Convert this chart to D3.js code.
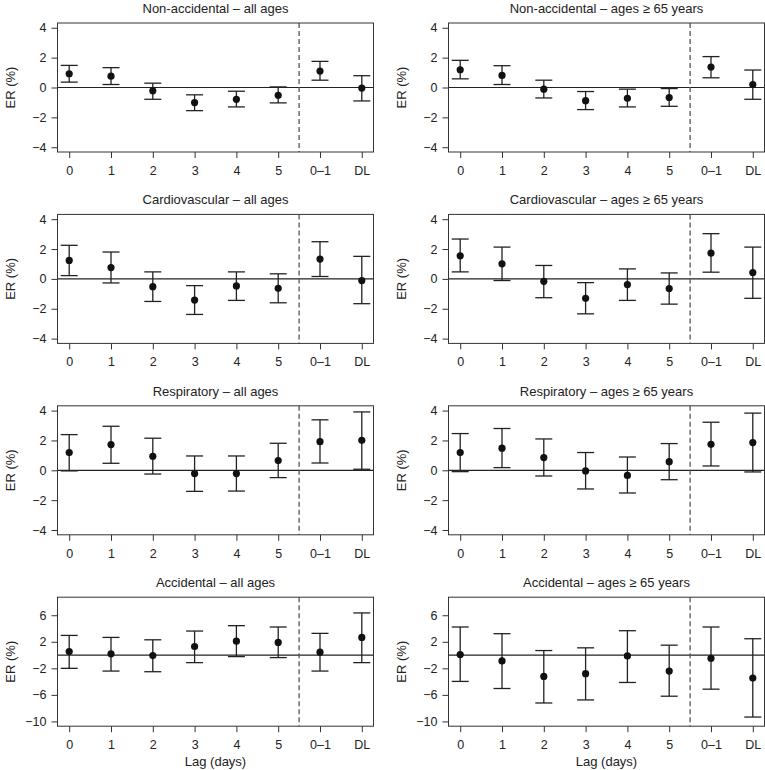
<!DOCTYPE html>
<html>
<head>
<meta charset="utf-8">
<script src="https://cdn.jsdelivr.net/npm/d3@7"></script>
<style>
  body { margin: 0; background: #fff; }
  svg { display: block; font-family: "Liberation Sans", Arial, sans-serif; }
  .axis text { font-size: 12.5px; fill: #222; }
  .axis line { stroke: #333; }
  .axis path { display: none; }
</style>
</head>
<body>
<svg width="765" height="770"></svg>
<script>
var lagLabels = ["0", "1", "2", "3", "4", "5", "0\u20131", "DL"];

var titles = [
  "Non-accidental \u2013 all ages", "Non-accidental \u2013 ages \u2265 65 years",
  "Cardiovascular \u2013 all ages", "Cardiovascular \u2013 ages \u2265 65 years",
  "Respiratory \u2013 all ages", "Respiratory \u2013 ages \u2265 65 years",
  "Accidental \u2013 all ages", "Accidental \u2013 ages \u2265 65 years"
];

// point estimates and 95% CI per panel
var nonAccAllEst = [0.92, 0.76, -0.22, -1.01, -0.79, -0.52, 1.10, -0.04];
var nonAccAllLo  = [0.36, 0.20, -0.79, -1.55, -1.30, -1.03, 0.49, -0.90];
var nonAccAllHi  = [1.48, 1.33, 0.29, -0.49, -0.25, 0.04, 1.75, 0.79];

var nonAcc65Est = [1.19, 0.81, -0.11, -0.88, -0.72, -0.67, 1.37, 0.20];
var nonAcc65Lo  = [0.58, 0.20, -0.70, -1.48, -1.30, -1.26, 0.65, -0.79];
var nonAcc65Hi  = [1.82, 1.46, 0.49, -0.27, -0.11, -0.07, 2.07, 1.17];

var cardioAllEst = [1.24, 0.76, -0.52, -1.42, -0.47, -0.63, 1.33, -0.11];
var cardioAllLo  = [0.22, -0.27, -1.51, -2.38, -1.44, -1.60, 0.16, -1.66];
var cardioAllHi  = [2.25, 1.80, 0.47, -0.45, 0.47, 0.34, 2.49, 1.51];

var cardio65Est = [1.55, 1.01, -0.16, -1.30, -0.38, -0.65, 1.73, 0.43];
var cardio65Lo  = [0.47, -0.11, -1.26, -2.34, -1.44, -1.69, 0.45, -1.30];
var cardio65Hi  = [2.67, 2.13, 0.90, -0.25, 0.67, 0.40, 3.03, 2.13];

var respAllEst = [1.19, 1.72, 0.94, -0.22, -0.22, 0.65, 1.92, 2.01];
var respAllLo  = [-0.04, 0.47, -0.25, -1.41, -1.39, -0.49, 0.49, 0.07];
var respAllHi  = [2.39, 2.95, 2.15, 0.96, 0.96, 1.81, 3.38, 3.91];

var resp65Est = [1.19, 1.48, 0.85, -0.04, -0.34, 0.58, 1.74, 1.86];
var resp65Lo  = [-0.09, 0.18, -0.38, -1.25, -1.52, -0.63, 0.29, -0.11];
var resp65Hi  = [2.46, 2.80, 2.10, 1.19, 0.89, 1.79, 3.22, 3.83];

var accAllEst = [0.53, 0.18, -0.08, 1.29, 2.10, 1.90, 0.43, 2.66];
var accAllLo  = [-2.00, -2.41, -2.51, -1.14, -0.23, -0.38, -2.41, -1.14];
var accAllHi  = [2.96, 2.66, 2.30, 3.62, 4.43, 4.23, 3.27, 6.35];

var acc65Est = [0.08, -0.89, -3.22, -2.81, -0.13, -2.41, -0.48, -3.47];
var acc65Lo  = [-3.97, -5.04, -7.22, -6.76, -4.13, -6.20, -5.14, -9.34];
var acc65Hi  = [4.23, 3.22, 0.68, 1.09, 3.67, 1.49, 4.23, 2.46];

var smallTicks = [-4, -2, 0, 2, 4];
var accTicks = [-10, -6, -2, 2, 6];

var panels = [
  [nonAccAllEst, nonAccAllLo, nonAccAllHi], [nonAcc65Est, nonAcc65Lo, nonAcc65Hi],
  [cardioAllEst, cardioAllLo, cardioAllHi], [cardio65Est, cardio65Lo, cardio65Hi],
  [respAllEst, respAllLo, respAllHi], [resp65Est, resp65Lo, resp65Hi],
  [accAllEst, accAllLo, accAllHi], [acc65Est, acc65Lo, acc65Hi]
];

var svg = d3.select("svg");
var boxW = 316, boxH = 129;

panels.forEach(function(p, i) {
  var col = i % 2, row = Math.floor(i / 2);
  var left = 57.5 + col * 391, top = 23 + row * 191.4;
  var ticks = row === 3 ? accTicks : smallTicks;
  var lo = d3.min(ticks), hi = d3.max(ticks);
  if (row === 3) hi = 8;
  var pad = (hi - lo) * 0.04;

  var x = d3.scaleLinear().domain([1 - 0.28, 8 + 0.28]).range([0, boxW]);
  var y = d3.scaleLinear().domain([lo - pad, hi + pad]).range([boxH, 0]);

  var g = svg.append("g").attr("transform", "translate(" + left + "," + top + ")");

  g.append("g")
      .attr("class", "axis")
      .attr("transform", "translate(0," + boxH + ")")
      .call(d3.axisBottom(x).tickValues(d3.range(1, 9)).tickSize(6).tickPadding(8)
        .tickFormat(function(d) { return lagLabels[d - 1]; }));

  g.append("g")
      .attr("class", "axis")
      .call(d3.axisLeft(y).tickValues(ticks).tickSize(6).tickPadding(5)
        .tickFormat(function(d) { return d < 0 ? "\u2212" + Math.abs(d) : d; }));

  g.append("line")
      .attr("x1", 0).attr("x2", boxW)
      .attr("y1", y(0)).attr("y2", y(0))
      .attr("stroke", "#222").attr("stroke-width", 1.2);

  g.append("line")
      .attr("x1", x(6.5)).attr("x2", x(6.5))
      .attr("y1", 0).attr("y2", boxH)
      .attr("stroke", "#555").attr("stroke-width", 1.3)
      .attr("stroke-dasharray", "5,3");

  var est = p[0], low = p[1], upp = p[2];
  var bars = g.selectAll(".bar").data(est).enter().append("g").attr("class", "bar");
  bars.append("line")
      .attr("x1", function(d, j) { return x(j + 1); })
      .attr("x2", function(d, j) { return x(j + 1); })
      .attr("y1", function(d, j) { return y(low[j]); })
      .attr("y2", function(d, j) { return y(upp[j]); });
  bars.append("line")
      .attr("x1", function(d, j) { return x(j + 1) - 8.5; })
      .attr("x2", function(d, j) { return x(j + 1) + 8.5; })
      .attr("y1", function(d, j) { return y(low[j]); })
      .attr("y2", function(d, j) { return y(low[j]); });
  bars.append("line")
      .attr("x1", function(d, j) { return x(j + 1) - 8.5; })
      .attr("x2", function(d, j) { return x(j + 1) + 8.5; })
      .attr("y1", function(d, j) { return y(upp[j]); })
      .attr("y2", function(d, j) { return y(upp[j]); });
  bars.selectAll("line").attr("stroke", "#222").attr("stroke-width", 1.3);
  bars.append("circle")
      .attr("cx", function(d, j) { return x(j + 1); })
      .attr("cy", function(d) { return y(d); })
      .attr("r", 3.6)
      .attr("fill", "#111");

  g.append("rect")
      .attr("width", boxW).attr("height", boxH)
      .attr("fill", "none").attr("stroke", "#333").attr("stroke-width", 1);

  g.append("text")
      .attr("x", boxW / 2).attr("y", -10)
      .attr("text-anchor", "middle")
      .style("font-size", "13px").attr("fill", "#222")
      .text(titles[i]);

  g.append("text")
      .attr("transform", "translate(" + (-47) + "," + (boxH / 2) + ") rotate(-90)")
      .attr("text-anchor", "middle")
      .attr("dy", "0.35em")
      .style("font-size", "13px").attr("fill", "#222")
      .text("ER (%)");

  if (row === 3) {
    g.append("text")
        .attr("x", boxW / 2).attr("y", boxH + 40)
        .attr("text-anchor", "middle")
        .style("font-size", "13px").attr("fill", "#222")
        .text("Lag (days)");
  }
});
</script>
</body>
</html>
